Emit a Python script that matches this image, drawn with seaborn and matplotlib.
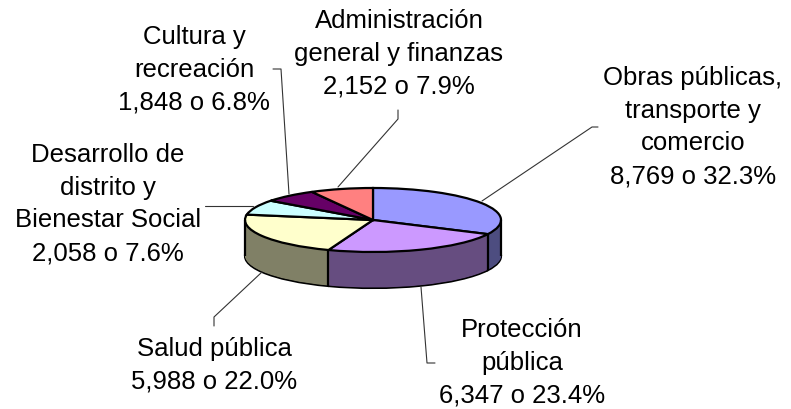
import numpy as np
import matplotlib
matplotlib.use('Agg')
import matplotlib.pyplot as plt
import seaborn as sns

# gasto por funcion
categorias = ['Obras públicas,\ntransporte y\ncomercio', 'Protección\npública', 'Salud pública',
              'Desarrollo de\ndistrito y\nBienestar Social', 'Cultura y\nrecreación',
              'Administración\ngeneral y finanzas']
valores = [8769, 6347, 5988, 2058, 1848, 2152]
porcentajes = [32.3, 23.4, 22.0, 7.6, 6.8, 7.9]
colores = ['#9999FF', '#CC99FF', '#FFFFCC', '#CCFFFF', '#660066', '#FF8080']
colores_lado = ['#4D4D80', '#664D80', '#808066', '#668080', '#330033', '#804040']

W, H = 791, 410
# centro y radios de la elipse en pixeles
cx, cy, rx, ry = 373, 221, 128, 32
prof = 36

sns.set_theme(style='white')
plt.rcParams['font.family'] = ['Liberation Sans', 'DejaVu Sans']

fig = plt.figure(figsize=(W / 100, H / 100), dpi=100)
ax = fig.add_axes([0, 0, 1, 1])

paleta = sns.color_palette(colores)
paleta_lado = sns.color_palette(colores_lado)

# lado del pastel: copias apiladas hacia abajo
for d in np.arange(prof, 0, -0.5):
    ax.pie(valores, colors=paleta_lado, startangle=90, counterclock=False, center=(0, -d / ry),
           wedgeprops={'edgecolor': 'black' if d == prof else 'none', 'linewidth': 1.6 if d == prof else 0})
ax.pie(valores, colors=paleta, startangle=90, counterclock=False,
       wedgeprops={'edgecolor': 'black', 'linewidth': 1.6})
ax.set_aspect('auto')
ax.set_xlim(-cx / rx, (W - cx) / rx)
ax.set_ylim((cy - H) / ry, cy / ry)
ax.axis('off')

# aristas verticales del lado
angulos = 90 - np.cumsum(valores) / np.sum(valores) * 360
xs = [-1, 1]
ys = [0, 0]
for a in angulos:
    if np.sin(np.radians(a)) < 0:
        xs.append(np.cos(np.radians(a)))
        ys.append(np.sin(np.radians(a)))
for x, y in zip(xs, ys):
    ax.plot([x, x], [y, y - prof / ry], color='black', lw=1.6, zorder=5, solid_capstyle='butt')


def fx(p):
    return p / W


def fy(p):
    return 1 - p / H


# lineas guia
guias = [
    [(482, 202), (592, 128), (598, 128)],
    [(421, 288), (427, 364), (435, 364)],
    [(262, 273), (214, 318), (214, 327)],
    [(205, 207), (253, 207)],
    [(273, 70), (281, 70), (289, 195)],
    [(338, 188), (398, 120), (398, 111)],
]
for g in guias:
    fig.add_artist(plt.Line2D([fx(p[0]) for p in g], [fy(p[1]) for p in g], color='#333333', lw=0.8))

# etiquetas
pos_texto = [(693, 127), (522, 363), (214, 365), (108, 204), (194, 70), (399, 54)]
for cat, v, pct, (x, y) in zip(categorias, valores, porcentajes, pos_texto):
    fig.text(fx(x), fy(y), f'{cat}\n{v:,} o {pct:.1f}%', ha='center', va='center', ma='center',
             fontsize=18.5, color='black', linespacing=1.46)

fig.savefig('out.png', dpi=100)
